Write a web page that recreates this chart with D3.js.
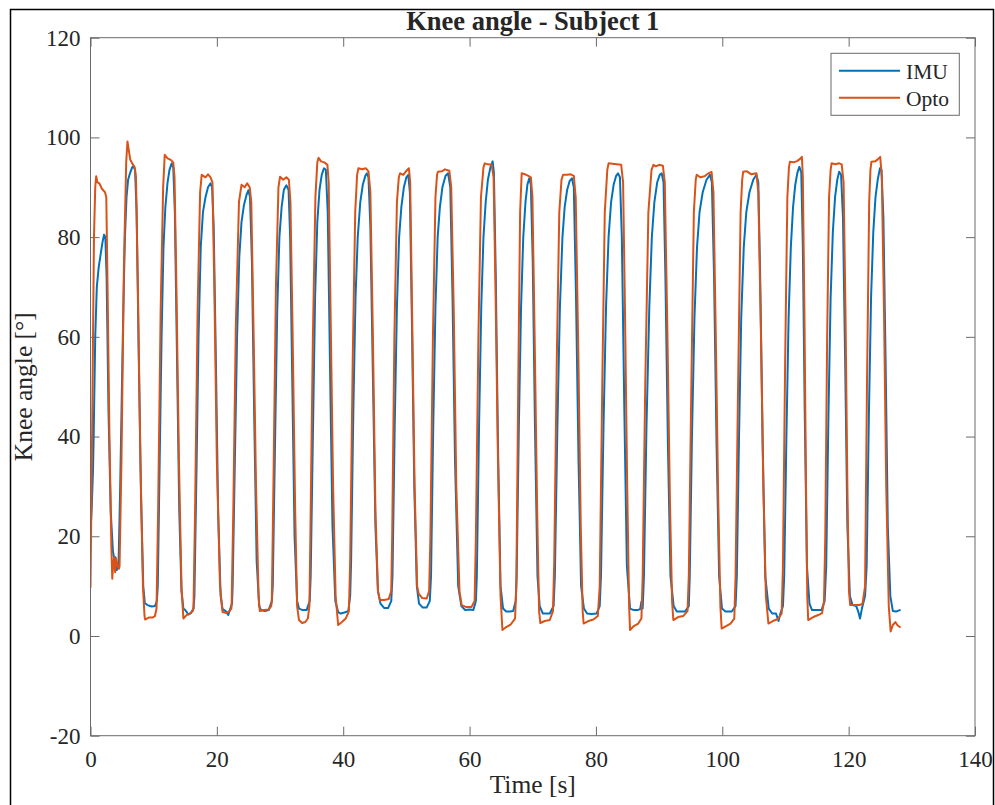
<!DOCTYPE html>
<html>
<head>
<meta charset="utf-8">
<script src="https://cdn.jsdelivr.net/npm/d3@7"></script>
<style>
  html, body { margin: 0; padding: 0; background: #fff; }
  svg { display: block; }
  text { font-family: "Liberation Serif", "Times New Roman", serif; fill: #262626; }
</style>
</head>
<body>
<div id="chart"></div>
<script>
// ---------------- data ----------------
const chartTitle = "Knee angle - Subject 1";
const xLabel = "Time [s]";
const yLabel = "Knee angle [°]";
const seriesNames = ["IMU", "Opto"];
const xTicks = [0, 20, 40, 60, 80, 100, 120, 140];
const yTicks = [-20, 0, 20, 40, 60, 80, 100, 120];
const xDomain = [0, 140];
const yDomain = [-20, 120];

// [time (s), angle (deg)]
const imuSeries = [
  [0,20.9],[0.2,26],[0.4,33.3],[0.5,40],[0.75,60],[1.0,70],[1.3,74],[1.6,76.5],[1.9,79],[2.15,80.5],[2.35,80],[2.55,72],[2.85,45],[3.2,25],[3.55,17],[3.75,15.5],[3.95,15.8],[4.15,13.2],[4.3,14],
  [4.45,15],[4.7,30],[4.95,48],[5.2,66],[5.45,80],[5.7,88],[5.95,91.5],[6.3,93],[6.6,94],[6.8,94.2],[7.05,93.5],[7.3,85],[7.65,55],[8.0,28],[8.35,10],[8.6,6.6],[9.0,6.2],[9.7,5.9],[10.2,6],[10.5,7],
  [10.65,10],[10.95,35],[11.25,60],[11.55,78],[11.85,86],[12.2,91],[12.5,93.5],[12.85,94.8],[13.1,94],[13.35,85],[13.7,55],[14.05,25],[14.4,9],[14.7,5.5],[15.0,5.2],[15.5,4.3],[15.9,4.6],[16.3,5.5],
  [16.45,8],[16.8,35],[17.1,60],[17.45,78],[17.8,85],[18.2,88],[18.6,90],[19.0,90.8],[19.25,90],[19.5,82],[19.85,55],[20.2,25],[20.6,8],[20.9,5.4],[21.4,5],[21.8,4.2],[22.0,5],[22.4,6.5],
  [22.5,10],[22.85,35],[23.2,60],[23.55,76],[23.9,83],[24.3,86.5],[24.7,88.5],[25.0,89.4],[25.25,88],[25.55,75],[25.9,45],[26.3,15],[26.7,6],[27.0,5.2],[27.6,5],[28.2,5.2],[28.7,7],
  [28.85,10],[29.2,38],[29.55,65],[29.9,80],[30.25,86],[30.6,89.5],[31.0,90.4],[31.35,89.5],[31.6,80],[31.95,50],[32.3,20],[32.7,7],[33.0,5.5],[33.6,5.2],[34.2,5.2],[34.7,7],
  [34.85,12],[35.2,40],[35.55,68],[35.9,83],[36.25,89.5],[36.6,92.5],[36.95,93.8],[37.25,93.5],[37.55,85],[37.9,55],[38.3,22],[38.75,7],[39.2,4.8],[39.6,4.5],[40.2,4.7],[40.8,5],[41.1,8],
  [41.25,15],[41.6,45],[41.95,68],[42.3,80],[42.7,87],[43.1,90.5],[43.5,92.3],[43.75,92.8],[44.0,92],[44.3,82],[44.7,52],[45.1,22],[45.5,9],[45.9,6.5],[46.5,5.6],[47.1,5.6],[47.6,7],
  [47.8,12],[48.15,42],[48.5,66],[48.85,80],[49.2,86],[49.6,90],[50.0,92],[50.3,92.5],[50.55,89],[50.85,65],[51.25,30],[51.65,10],[52.0,6.5],[52.6,5.7],[53.2,5.7],[53.7,7],
  [53.9,12],[54.25,42],[54.6,66],[54.95,80],[55.3,86],[55.7,90],[56.2,92.3],[56.6,92.8],[56.95,90],[57.3,68],[57.7,35],[58.2,10],[58.7,6],[59.3,5.2],[60.0,5.3],[60.6,5.2],[61.0,7],
  [61.15,12],[61.5,42],[61.85,66],[62.2,80],[62.55,87],[62.9,91.5],[63.3,94],[63.65,95.2],[63.85,93],[64.15,72],[64.5,38],[64.9,10],[65.3,5.5],[65.8,4.9],[66.4,4.9],[66.9,5],[67.3,7],
  [67.45,12],[67.8,42],[68.15,66],[68.5,80],[68.85,87],[69.15,90.5],[69.45,91.8],[69.7,90.5],[70.0,75],[70.35,42],[70.75,12],[71.1,6],[71.6,4.5],[72.2,4.5],[72.7,4.5],[73.3,6],
  [73.5,12],[73.9,42],[74.3,66],[74.7,80],[75.05,86],[75.45,89.5],[75.85,91.3],[76.2,91.8],[76.5,90],[76.85,68],[77.25,35],[77.65,10],[78.1,5.5],[78.6,4.5],[79.3,4.4],[80.1,4.5],[80.6,6],
  [80.8,12],[81.2,42],[81.6,66],[82.0,80],[82.4,87],[82.8,90.5],[83.2,92.3],[83.5,92.8],[83.8,92],[84.1,80],[84.5,45],[84.9,14],[85.4,5.5],[86.0,5.2],[86.6,5.2],[87.0,5.4],[87.2,6.9],[87.4,5.5],
  [87.6,12],[88.0,42],[88.45,66],[88.85,80],[89.25,87],[89.7,91],[90.1,92.5],[90.4,92.8],[90.7,91],[91.0,72],[91.4,38],[91.8,12],[92.3,6],[92.8,4.9],[93.5,4.9],[94.1,4.9],[94.7,6],
  [94.85,12],[95.2,40],[95.6,64],[96.0,78],[96.4,85],[96.9,89],[97.5,91.5],[98.05,92.5],[98.35,91],[98.7,72],[99.1,38],[99.5,12],[99.95,5.5],[100.5,4.9],[101.0,4.9],[101.5,4.9],[102.1,6],
  [102.3,12],[102.65,40],[103.0,64],[103.4,78],[103.8,85],[104.3,89],[104.9,91.5],[105.4,92.5],[105.7,91],[106.0,72],[106.4,38],[106.8,12],[107.35,5.5],[107.9,4.5],[108.5,4.5],[108.9,3],[109.2,4.5],[109.6,6],
  [109.8,12],[110.15,40],[110.5,64],[110.85,78],[111.2,86],[111.55,90.5],[111.9,93],[112.2,94.1],[112.5,93],[112.75,78],[113.05,45],[113.4,14],[113.8,6.5],[114.2,5.2],[114.9,5.2],[115.7,5.2],[116.2,7],
  [116.45,14],[116.8,44],[117.15,68],[117.5,81],[117.85,88],[118.2,91.5],[118.5,93.1],[118.8,92.5],[119.1,84],[119.45,55],[119.8,22],[120.2,8],[120.6,6.2],[121.2,6],[121.5,5],[121.8,3.5],[122.1,5.5],[122.6,8],
  [122.85,14],[123.2,44],[123.55,68],[123.9,81],[124.25,88],[124.6,91.5],[124.95,93.8],[125.2,93.5],[125.5,84],[125.85,55],[126.2,22],[126.6,8],[127.0,5],[127.5,4.9],[128.1,5.2]
];

const optoSeries = [
  [0,9.8],[0.25,40],[0.55,80],[0.75,90],[0.9,92.2],[1.1,91],[1.4,90.8],[1.8,89.7],[2.3,89],[2.5,88],[2.7,70],[3.0,40],[3.3,18],[3.45,11.5],[3.6,14.5],[3.75,15.8],[3.9,12.8],[4.05,15.5],[4.3,14],[4.5,13.5],
  [4.6,14],[4.9,35],[5.3,75],[5.65,95],[5.85,99.2],[6.05,97.5],[6.3,95.5],[6.6,94.8],[7.0,94],[7.2,92],[7.5,70],[7.9,35],[8.3,10],[8.55,4],[8.65,3.3],[9.2,3.7],[9.8,3.7],[10.2,4],
  [10.45,5.5],[10.7,25],[11.1,65],[11.5,90],[11.75,96.5],[12.2,95.8],[12.7,95.5],[13.1,95],[13.3,92],[13.6,70],[14.0,35],[14.4,10],[14.7,3.5],[15.2,4.2],[15.7,4.5],[16.2,5],
  [16.3,5.5],[16.55,25],[16.95,65],[17.35,89],[17.6,92.5],[18.2,92],[18.6,92.6],[19.0,92],[19.3,91],[19.6,70],[20.0,35],[20.5,10],[20.9,4.8],[21.5,4.6],[22.0,5],[22.3,5.5],
  [22.35,7],[22.6,25],[23.0,62],[23.5,87],[23.9,90.5],[24.4,90],[24.8,90.8],[25.2,90],[25.45,87],[25.8,62],[26.2,30],[26.6,8],[26.8,5],[27.5,5.2],[28.2,5.3],[28.6,6],
  [28.7,7],[28.95,30],[29.35,70],[29.75,90],[30.0,92.1],[30.5,91.5],[31.0,92],[31.4,91.5],[31.65,87],[32.0,60],[32.4,25],[32.7,6],[33.0,3.2],[33.5,2.6],[34.0,2.8],[34.4,3.5],[34.65,6],
  [34.8,20],[35.2,60],[35.6,88],[35.9,95],[36.1,95.9],[36.5,95.2],[37.0,95],[37.5,94.5],[37.7,91],[38.0,65],[38.4,30],[38.8,8],[39.2,2.2],[39.8,2.8],[40.4,3.5],[40.9,5],
  [41.1,15],[41.5,55],[41.9,85],[42.2,92.5],[42.4,93.8],[43.0,93.6],[43.6,93.8],[44.0,93.2],[44.3,89],[44.7,60],[45.1,25],[45.5,9],[45.8,7.2],[46.5,7.2],[47.2,7.4],[47.6,9],
  [47.75,20],[48.1,60],[48.5,87],[48.8,92],[49.0,92.8],[49.5,92.5],[50.0,93.3],[50.4,93.8],[50.6,91],[50.9,65],[51.3,30],[51.7,10],[51.95,8.5],[52.5,7.6],[53.2,7.5],[53.6,9],
  [53.8,20],[54.2,60],[54.6,88],[54.85,92.5],[55.0,93.1],[55.6,93.2],[56.1,93.6],[56.8,93.3],[57.1,90],[57.5,65],[57.9,30],[58.4,9],[58.75,6.2],[59.5,5.8],[60.3,5.8],[60.8,7],
  [61.0,20],[61.4,60],[61.8,88],[62.2,94],[62.4,94.8],[62.9,94.6],[63.5,94.5],[63.8,92],[64.1,70],[64.5,35],[64.9,8],[65.2,1.2],[65.8,1.8],[66.5,2.3],[67.2,3.5],
  [67.4,10],[67.7,50],[68.0,85],[68.25,92.8],[68.8,92.6],[69.3,92.3],[69.7,92],[69.95,88],[70.3,60],[70.7,25],[71.0,5],[71.2,2.6],[71.9,3],[72.7,3.2],[73.2,5],
  [73.4,15],[73.8,55],[74.2,85],[74.55,91.5],[74.8,92.5],[75.5,92.5],[76.0,92.6],[76.5,92.3],[76.8,88],[77.2,58],[77.6,22],[77.9,5],[78.05,2.5],[78.8,3],[79.6,3.3],[80.3,4],
  [80.6,10],[81.0,50],[81.4,85],[81.8,93.5],[82.0,94.8],[82.6,94.7],[83.3,94.6],[84.0,94.5],[84.3,91],[84.6,65],[84.95,30],[85.25,6],[85.4,1.2],[86.0,2],[86.7,2.5],[87.2,3.5],
  [87.4,12],[87.8,50],[88.3,85],[88.8,93.5],[89.1,94.5],[89.5,94.2],[90.0,94.5],[90.6,94.3],[90.9,91],[91.3,62],[91.7,28],[92.05,7],[92.25,3.2],[93.0,3.8],[93.8,4],[94.5,5],
  [94.7,12],[95.1,50],[95.5,85],[95.8,91.5],[95.95,92.5],[96.5,92],[97.2,92.2],[97.8,92.8],[98.3,93.1],[98.6,89],[98.95,62],[99.35,28],[99.7,6],[99.9,1.5],[100.6,2],[101.3,2.5],[101.9,3.5],
  [102.1,12],[102.5,50],[102.9,85],[103.15,91.5],[103.3,93.1],[103.9,93.2],[104.6,92.6],[105.4,92.8],[105.7,89],[106.1,62],[106.5,30],[106.9,8],[107.3,2.5],[108.0,3],[108.8,3.4],[109.4,4.5],
  [109.6,14],[109.95,55],[110.3,88],[110.55,94],[110.7,95.1],[111.3,95],[111.9,95.3],[112.4,95.8],[112.6,96.1],[112.75,92],[113.0,65],[113.25,30],[113.45,8],[113.6,3.2],[114.4,3.8],[115.2,4.2],[115.8,4.6],[116.1,7],
  [116.3,20],[116.6,60],[116.9,88],[117.15,93.5],[117.3,94.8],[117.9,94.6],[118.5,94.8],[118.9,94.6],[119.2,91],[119.5,65],[119.8,30],[120.05,9],[120.25,6.2],[121.0,6.2],[121.7,6.2],[122.2,6.5],
  [122.6,10],[122.9,50],[123.25,87],[123.45,93.5],[123.6,95.1],[124.2,95.2],[124.6,95.6],[125.0,96.1],[125.25,92],[125.6,65],[125.95,30],[126.35,6],[126.65,0.9],[127.0,2.2],[127.4,2.8],[127.7,2.2],[128.1,1.8]
];

const seriesColors = ["#0072BD", "#D95319"];

// ---------------- drawing ----------------
const W = 995, H = 805;
const plot = { left: 90.5, right: 975, top: 37.7, bottom: 735.7 };
const axisColor = "#262626";
const boxColor = "#6a6a6a";

const svg = d3.select("#chart").append("svg")
  .attr("width", W).attr("height", H);

svg.append("rect").attr("width", W).attr("height", H).attr("fill", "#fff");

// figure frame
svg.append("rect")
  .attr("x", 10.5).attr("y", 9.5).attr("width", 983).attr("height", 820)
  .attr("fill", "none").attr("stroke", "#000").attr("stroke-width", 1.5);

const x = d3.scaleLinear().domain(xDomain).range([plot.left, plot.right]);
const y = d3.scaleLinear().domain(yDomain).range([plot.bottom, plot.top]);

svg.append("defs").append("clipPath").attr("id", "clip")
  .append("rect")
  .attr("x", plot.left).attr("y", plot.top)
  .attr("width", plot.right - plot.left).attr("height", plot.bottom - plot.top);

// axes
const tickLen = 9;
const fmt = d => d3.format("d")(d).replace("−", "-");

const gx = svg.append("g").attr("transform", `translate(0,${plot.bottom})`)
  .call(d3.axisBottom(x).tickValues(xTicks).tickFormat(fmt).tickSizeInner(-tickLen).tickSizeOuter(0).tickPadding(15));
const gxt = svg.append("g").attr("transform", `translate(0,${plot.top})`)
  .call(d3.axisTop(x).tickValues(xTicks).tickFormat("").tickSizeInner(-tickLen).tickSizeOuter(0));
const gy = svg.append("g").attr("transform", `translate(${plot.left},0)`)
  .call(d3.axisLeft(y).tickValues(yTicks).tickFormat(fmt).tickSizeInner(-tickLen).tickSizeOuter(0).tickPadding(10));
const gyr = svg.append("g").attr("transform", `translate(${plot.right},0)`)
  .call(d3.axisRight(y).tickValues(yTicks).tickFormat("").tickSizeInner(-tickLen).tickSizeOuter(0));

[gx, gxt, gy, gyr].forEach(g => {
  g.select(".domain").remove();
  g.selectAll(".tick line").attr("stroke", boxColor).attr("stroke-width", 1);
  g.selectAll(".tick text")
    .attr("fill", axisColor)
    .style("font-family", '"Liberation Serif", "Times New Roman", serif')
    .style("font-size", "23px");
});
gx.selectAll(".tick text").attr("dy", "0.71em");

// data lines
const line = d3.line().x(d => x(d[0])).y(d => y(d[1]));
const gLines = svg.append("g").attr("clip-path", "url(#clip)");
[imuSeries, optoSeries].forEach((s, i) => {
  gLines.append("path")
    .datum(s)
    .attr("d", line)
    .attr("fill", "none")
    .attr("stroke", seriesColors[i])
    .attr("stroke-width", 2)
    .attr("stroke-linejoin", "round")
    .attr("stroke-linecap", "round");
});

// box
svg.append("rect")
  .attr("x", plot.left).attr("y", plot.top)
  .attr("width", plot.right - plot.left).attr("height", plot.bottom - plot.top)
  .attr("fill", "none").attr("stroke", boxColor).attr("stroke-width", 1);

// title
svg.append("text")
  .attr("x", (plot.left + plot.right) / 2).attr("y", 30)
  .attr("text-anchor", "middle")
  .style("font-size", "26.5px").style("font-weight", "bold")
  .attr("fill", "#000")
  .text(chartTitle);

// axis labels
svg.append("text")
  .attr("x", (plot.left + plot.right) / 2).attr("y", 793)
  .attr("text-anchor", "middle")
  .style("font-size", "25.5px")
  .text(xLabel);

svg.append("text")
  .attr("transform", `translate(32,${(plot.top + plot.bottom) / 2}) rotate(-90)`)
  .attr("text-anchor", "middle")
  .style("font-size", "25.5px")
  .text(yLabel);

// legend
const lg = svg.append("g");
lg.append("rect")
  .attr("x", 831).attr("y", 53.3).attr("width", 128.3).attr("height", 62)
  .attr("fill", "#fff").attr("stroke", boxColor).attr("stroke-width", 1);
seriesNames.forEach((name, i) => {
  const ly = 70.7 + i * 27;
  lg.append("line")
    .attr("x1", 839).attr("x2", 900).attr("y1", ly).attr("y2", ly)
    .attr("stroke", seriesColors[i]).attr("stroke-width", 2);
  lg.append("text")
    .attr("x", 906).attr("y", ly + 8)
    .style("font-size", "21.5px")
    .text(name);
});
</script>
</body>
</html>
